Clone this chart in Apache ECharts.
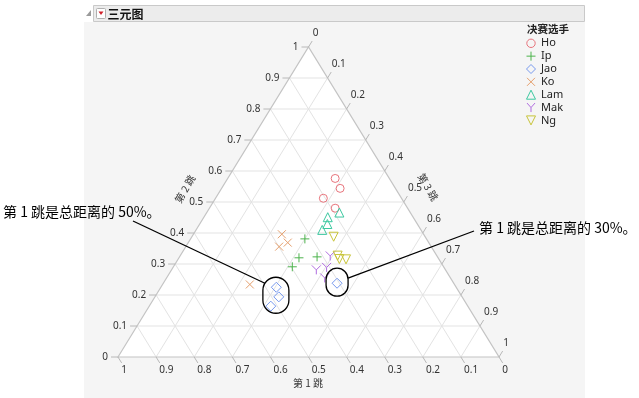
<!DOCTYPE html>
<html><head><meta charset="utf-8">
<script src="https://cdn.jsdelivr.net/npm/echarts@6/dist/echarts.min.js"></script>
<style>html,body{margin:0;padding:0;background:#fff}#c{width:639px;height:398px}</style>
</head><body><div id="c"></div>
<script>
// tick values / labels shared by the three ternary axes
const tickValues = [0,0.1,0.2,0.3,0.4,0.5,0.6,0.7,0.8,0.9,1];
const tickLabels = ['0','0.1','0.2','0.3','0.4','0.5','0.6','0.7','0.8','0.9','1'];
const gridValues = [0.1,0.2,0.3,0.4,0.5,0.6,0.7,0.8,0.9];
const axisTitles = ['第 1 跳','第 2 跳','第 3 跳'];
const players = ['Ho','Ip','Jao','Ko','Lam','Mak','Ng'];
// each point: [第1跳, 第2跳, 第3跳] as share of total distance
const Ho  = [[0.142,0.576,0.282],[0.145,0.544,0.311],[0.205,0.512,0.283],[0.190,0.480,0.330]];
const Ip  = [[0.319,0.381,0.300],[0.365,0.320,0.315],[0.316,0.323,0.361],[0.397,0.291,0.312]];
const Jao = [[0.472,0.225,0.303],[0.481,0.194,0.325],[0.517,0.164,0.319],[0.306,0.238,0.456]];
const Ko  = [[0.372,0.396,0.232],[0.370,0.369,0.261],[0.399,0.356,0.245],[0.537,0.234,0.229]];
const Lam = [[0.186,0.466,0.348],[0.224,0.451,0.325],[0.236,0.429,0.335],[0.259,0.410,0.331]];
const Mak = [[0.280,0.326,0.394],[0.339,0.281,0.380],[0.308,0.289,0.403],[0.330,0.255,0.415]];
const Ng  = [[0.240,0.388,0.372],[0.260,0.327,0.413],[0.261,0.316,0.423],[0.244,0.315,0.441]];
const playerData = [Ho, Ip, Jao, Ko, Lam, Mak, Ng];
const legendTitle = '决赛选手';
const annotationTexts = ['第 1 跳是总距离的 50%。','第 1 跳是总距离的 30%。'];

const colors = ['#E8747C','#4DB34D','#7799EE','#E5A06E','#3CC8A0','#B06CE0','#C8C43A'];
const symbols = ['circle','path://M5,0L5,10M0,5L10,5','diamond','path://M0,0L10,10M10,0L0,10','triangle','path://M0,0L5,5L10,0M5,5L5,10','path://M0,0L10,0L5,9Z'];
const symbolSizes = [8,9,10,8,9,9,9];

const toXY = p => { const s = p[0]+p[1]+p[2]; const b = p[1]/s, c = p[2]/s; return [c + b/2, b]; };
function lineEnds(fam, v){
  if (fam === 0) return [[v,1-v,0],[v,0,1-v]];
  if (fam === 1) return [[1-v,v,0],[0,v,1-v]];
  return [[1-v,0,v],[0,1-v,v]];
}
const gridData = [];
[0,1,2].forEach(f => gridValues.forEach(v => gridData.push([f, v])));
const tickData = [];
[0,1,2].forEach(a => tickValues.forEach((v,i) => tickData.push([a, i])));

const FONT = 'Noto Sans, sans-serif';
const chart = echarts.init(document.getElementById('c'), null, {renderer:'canvas'});

const series = [
  { type:'custom', z:1, silent:true, data:[[0,0]],
    renderItem:(params, api) => {
      const pts = [[1,0,0],[0,1,0],[0,0,1]].map(p => api.coord(toXY(p)));
      return {type:'polygon', shape:{points:pts}, style:{fill:'#ffffff'}};
    }},
  { type:'custom', z:2, silent:true, data:gridData,
    renderItem:(params, api) => {
      const e = lineEnds(api.value(0), api.value(1));
      const p1 = api.coord(toXY(e[0])), p2 = api.coord(toXY(e[1]));
      return {type:'line', shape:{x1:p1[0],y1:p1[1],x2:p2[0],y2:p2[1]}, style:{stroke:'#e3e3e3', lineWidth:1}};
    }},
  { type:'custom', z:3, silent:true, data:[[0,0]],
    renderItem:(params, api) => {
      const pts = [[1,0,0],[0,1,0],[0,0,1]].map(p => api.coord(toXY(p)));
      return {type:'polygon', shape:{points:pts}, style:{fill:'none', stroke:'#c4c4c4', lineWidth:1.2}};
    }},
  { type:'custom', z:3, silent:true, data:tickData,
    renderItem:(params, api) => {
      const ax = api.value(0), i = api.value(1), v = tickValues[i];
      const BL = api.coord(toXY([1,0,0])), AP = api.coord(toXY([0,1,0])), BR = api.coord(toXY([0,0,1]));
      let P, d;
      if (ax === 0) { P = [v,0,1-v]; d = [BR[0]-AP[0], BR[1]-AP[1]]; }
      else if (ax === 1) { P = [1-v,v,0]; d = [BL[0]-BR[0], BL[1]-BR[1]]; }
      else { P = [0,1-v,v]; d = [AP[0]-BL[0], AP[1]-BL[1]]; }
      const L = Math.hypot(d[0], d[1]); d = [d[0]/L, d[1]/L];
      const p = api.coord(toXY(P));
      const e = [p[0]+d[0]*7, p[1]+d[1]*7];
      let tx, ty, al, va;
      if (ax === 0) { tx = e[0]-0.5; ty = e[1]+2.5; al='left'; va='top'; }
      else if (ax === 1) { tx = e[0]-3; ty = e[1]; al='right'; va='middle'; }
      else { tx = e[0]+0.5; ty = e[1]-3; al='left'; va='bottom'; }
      return {type:'group', children:[
        {type:'line', shape:{x1:p[0],y1:p[1],x2:e[0],y2:e[1]}, style:{stroke:'#b8b8b8', lineWidth:1}},
        {type:'text', x:tx, y:ty, style:{text:tickLabels[i], fill:'#333', fontSize:10, fontFamily:FONT, align:al, verticalAlign:va}}
      ]};
    }}
];
players.forEach((name, k) => {
  series.push({
    type:'scatter', name:name, z:5, symbol:symbols[k], symbolSize:symbolSizes[k],
    itemStyle:{color:'rgba(0,0,0,0)', borderColor:colors[k], borderWidth:1, opacity:1},
    emphasis:{disabled:true},
    data: playerData[k].map(toXY)
  });
});

chart.setOption({
  animation:false,
  grid:{left:118, top:47, width:381, height:310, show:false},
  xAxis:{type:'value', min:0, max:1, show:false},
  yAxis:{type:'value', min:0, max:1, show:false},
  series: series
});

// legend markers drawn as graphic shapes
function legendMarker(k, cx, cy){
  const st = {fill:'none', stroke:colors[k], lineWidth:1};
  const r = 4.5;
  const ln = (x1,y1,x2,y2) => ({type:'line', shape:{x1,y1,x2,y2}, style:st});
  let children;
  switch (k) {
    case 0: children = [{type:'circle', shape:{cx:cx, cy:cy, r:4.2}, style:st}]; break;
    case 1: children = [ln(cx,cy-r,cx,cy+r), ln(cx-r,cy,cx+r,cy)]; break;
    case 2: children = [{type:'polygon', shape:{points:[[cx,cy-r],[cx+r,cy],[cx,cy+r],[cx-r,cy]]}, style:st}]; break;
    case 3: children = [ln(cx-4,cy-4,cx+4,cy+4), ln(cx+4,cy-4,cx-4,cy+4)]; break;
    case 4: children = [{type:'polygon', shape:{points:[[cx,cy-r],[cx+r,cy+r],[cx-r,cy+r]]}, style:st}]; break;
    case 5: children = [{type:'polyline', shape:{points:[[cx-4,cy-4.5],[cx,cy],[cx+4,cy-4.5]]}, style:st}, ln(cx,cy,cx,cy+4.5)]; break;
    default: children = [{type:'polygon', shape:{points:[[cx-r,cy-r],[cx+r,cy-r],[cx,cy+r]]}, style:st}];
  }
  return {type:'group', z:10, children:children};
}
const legendEls = [{type:'text', z:10, x:527, y:29.5, style:{text:legendTitle, fill:'#222', fontSize:10.5, fontWeight:'bold', fontFamily:'Noto Sans CJK SC', verticalAlign:'middle'}}];
players.forEach((n, k) => {
  const cy = 43.3 + 12.85*k;
  legendEls.push(legendMarker(k, 531, cy));
  legendEls.push({type:'text', z:10, x:541, y:cy, style:{text:n, fill:'#222', fontSize:11, fontFamily:FONT, verticalAlign:'middle'}});
});

// annotation positions derived from the Jao data points
const px = p => chart.convertToPixel({gridIndex:0}, toXY(p));
const j = [0,1,2].map(i => px(Jao[i]));
const c1 = [(j[0][0]+j[1][0]+j[2][0])/3 + 0.6, (j[0][1]+j[1][1]+j[2][1])/3 - 1.5];
const c2 = px(Jao[3]); c2[1] -= 1;

const BGCOL = '#f5f5f5';
chart.setOption({
  graphic:[
    {type:'rect', z:-10, shape:{x:84, y:22, width:501, height:376}, style:{fill:BGCOL}},
    {type:'rect', z:-9, shape:{x:93.5, y:5.5, width:491, height:16}, style:{fill:'#ececec', stroke:'#c9c9c9', lineWidth:1}},
    {type:'polygon', z:-8, shape:{points:[[91,10],[91,16],[86,16]]}, style:{fill:'#9a9a9a'}},
    {type:'rect', z:-8, shape:{x:96.5, y:8.5, width:9, height:10, r:1}, style:{fill:'#ffffff', stroke:'#b0b0b0', lineWidth:1}},
    {type:'polygon', z:-7, shape:{points:[[98.5,11.5],[103.5,11.5],[101,15]]}, style:{fill:'#d0202a'}},
    {type:'text', z:-7, x:107.5, y:14, style:{text:'三元图', fill:'#111', fontSize:12, fontWeight:'bold', fontFamily:'Noto Sans CJK SC', verticalAlign:'middle'}},
    ...legendEls,
    {type:'text', z:10, x:308, y:383, style:{text:axisTitles[0], fill:'#333', fontSize:10, fontFamily:'Noto Sans CJK SC', align:'center', verticalAlign:'middle'}},
    {type:'text', z:10, x:185, y:189, rotation:Math.PI/3, style:{text:axisTitles[1], fill:'#333', fontSize:10, fontFamily:'Noto Sans CJK SC', align:'center', verticalAlign:'middle'}},
    {type:'text', z:10, x:428, y:187, rotation:-Math.PI/3, style:{text:axisTitles[2], fill:'#333', fontSize:10, fontFamily:'Noto Sans CJK SC', align:'center', verticalAlign:'middle'}},
    {type:'rect', z:100, shape:{x:c1[0]-13, y:c1[1]-18, width:26, height:36, r:13}, style:{fill:'none', stroke:'#000', lineWidth:1.3}},
    {type:'rect', z:100, shape:{x:c2[0]-11, y:c2[1]-14, width:22, height:28, r:11}, style:{fill:'none', stroke:'#000', lineWidth:1.3}},
    {type:'line', z:100, shape:{x1:133, y1:221, x2:c1[0]-11, y2:c1[1]-12}, style:{stroke:'#000', lineWidth:1.3}},
    {type:'line', z:100, shape:{x1:c2[0]+11, y1:c2[1]-4, x2:474, y2:231}, style:{stroke:'#000', lineWidth:1.3}},
    {type:'text', z:100, x:3, y:212, style:{text:annotationTexts[0], fill:'#000', fontSize:14, fontFamily:'Noto Sans CJK SC', verticalAlign:'middle'}},
    {type:'text', z:100, x:479, y:228, style:{text:annotationTexts[1], fill:'#000', fontSize:14, fontFamily:'Noto Sans CJK SC', verticalAlign:'middle'}}
  ]
});
</script></body></html>
